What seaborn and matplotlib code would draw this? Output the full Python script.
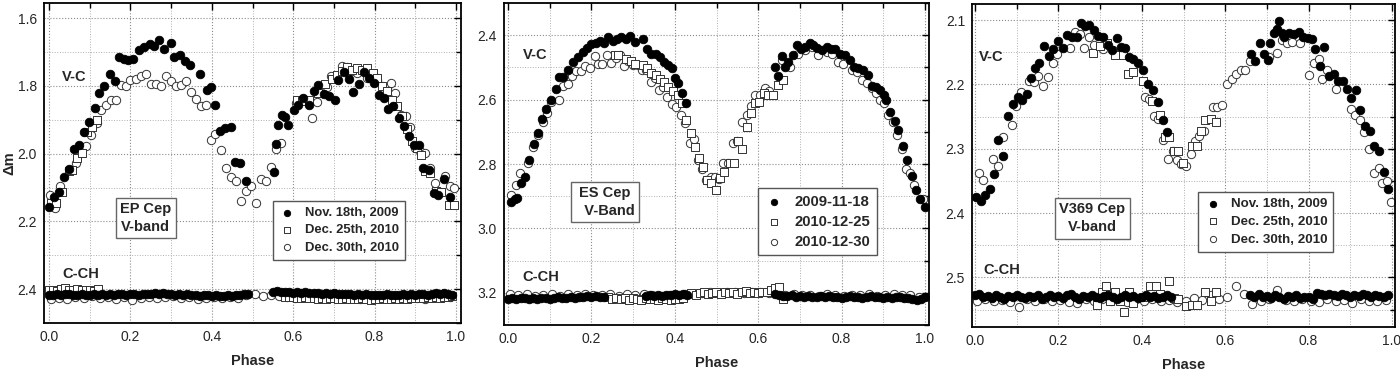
import numpy as np
import pandas as pd
import matplotlib
matplotlib.use('Agg')
import matplotlib.pyplot as plt
from matplotlib.ticker import MultipleLocator
import seaborn as sns

# ---------------- EP Cep ----------------
ep_nov_vc_ph = [0.001, 0.012, 0.025, 0.038, 0.05, 0.062, 0.074, 0.087, 0.099, 0.112, 0.124, 0.136,
                0.15, 0.162, 0.173, 0.184, 0.195, 0.207, 0.222, 0.234, 0.247, 0.258, 0.271, 0.283,
                0.299, 0.307, 0.322, 0.334, 0.347, 0.371, 0.389, 0.398, 0.409, 0.42, 0.433, 0.447,
                0.457, 0.47, 0.484,
                0.552, 0.557, 0.563, 0.572, 0.58, 0.588, 0.601, 0.613, 0.625, 0.638, 0.65, 0.662,
                0.675, 0.687, 0.702, 0.711, 0.724, 0.736, 0.748, 0.761, 0.775, 0.787, 0.798, 0.81,
                0.822, 0.833, 0.845, 0.859, 0.873, 0.884, 0.896, 0.908, 0.92, 0.933, 0.945, 0.957,
                0.97, 0.986]
ep_nov_vc = [2.158, 2.128, 2.114, 2.07, 2.045, 1.985, 1.975, 1.937, 1.905, 1.865, 1.821, 1.80,
             1.764, 1.784, 1.715, 1.719, 1.723, 1.72, 1.693, 1.686, 1.677, 1.681, 1.664, 1.691,
             1.672, 1.713, 1.71, 1.725, 1.739, 1.764, 1.811, 1.803, 1.857, 1.932, 1.924, 1.922,
             2.026, 2.027, 2.082,
             2.055, 1.97, 1.915, 1.885, 1.892, 1.915, 1.87, 1.855, 1.835, 1.855, 1.816, 1.798,
             1.825, 1.83, 1.84, 1.781, 1.76, 1.78, 1.817, 1.795, 1.76, 1.776, 1.792, 1.826,
             1.837, 1.869, 1.86, 1.895, 1.919, 1.947, 1.975, 1.975, 2.042, 2.047, 2.116, 2.121,
             2.075, 2.129]
ep_d25_vc_ph = [0.006, 0.017, 0.031, 0.048, 0.056, 0.068, 0.08, 0.094, 0.105, 0.117,
                0.609, 0.621, 0.638, 0.662, 0.679, 0.695, 0.707, 0.72, 0.732, 0.745, 0.757, 0.77,
                0.782, 0.795, 0.806, 0.818, 0.831, 0.843, 0.855, 0.867, 0.88, 0.892, 0.904, 0.913,
                0.925, 0.937, 0.95, 0.962, 0.982, 0.994]
ep_d25_vc = [2.145, 2.145, 2.114, 2.05, 2.047, 2.012, 1.997, 1.935, 1.92, 1.90,
             1.84, 1.845, 1.84, 1.82, 1.795, 1.78, 1.767, 1.756, 1.745, 1.752, 1.748, 1.754,
             1.748, 1.762, 1.777, 1.80, 1.816, 1.84, 1.86, 1.89, 1.928, 1.962, 1.983, 2.003,
             2.052, 2.057, 2.11, 2.113, 2.153, 2.153]
ep_d30_vc_ph = [0.002, 0.015, 0.027, 0.053, 0.066, 0.079, 0.091, 0.103, 0.117, 0.128, 0.14,
                0.152, 0.165, 0.176, 0.189, 0.2, 0.214, 0.225, 0.238, 0.25, 0.262, 0.275, 0.288,
                0.299, 0.311, 0.324, 0.336, 0.349, 0.36, 0.373, 0.385, 0.397, 0.409, 0.422, 0.434,
                0.447, 0.459, 0.471, 0.484, 0.496, 0.509, 0.52, 0.533, 0.545, 0.558, 0.57, 0.607,
                0.646, 0.658, 0.683, 0.694, 0.72, 0.732, 0.745, 0.757, 0.782, 0.795, 0.807, 0.818,
                0.831, 0.84, 0.851, 0.864, 0.876, 0.888, 0.9, 0.912, 0.925, 0.937, 0.949, 0.961,
                0.974, 0.986, 0.996]
ep_d30_vc = [2.122, 2.16, 2.096, 2.047, 2.027, 1.997, 1.978, 1.944, 1.91, 1.87, 1.855,
             1.842, 1.842, 1.796, 1.80, 1.782, 1.78, 1.772, 1.764, 1.794, 1.794, 1.80, 1.77,
             1.785, 1.801, 1.796, 1.786, 1.819, 1.838, 1.86, 1.855, 1.959, 1.942, 1.988, 2.042,
             2.069, 2.082, 2.139, 2.111, 2.096, 2.147, 2.075, 2.08, 2.04, 1.987, 1.967, 1.85,
             1.895, 1.846, 1.803, 1.772, 1.74, 1.743, 1.755, 1.762, 1.776, 1.764, 1.782, 1.80,
             1.806, 1.79, 1.821, 1.885, 1.888, 1.921, 1.983, 1.993, 1.998, 2.042, 2.086, 2.113,
             2.066, 2.096, 2.10]

ep_nov_cch_ph = [0.00, 0.01, 0.02, 0.03, 0.04, 0.05, 0.06, 0.07, 0.08, 0.09,
                 0.10, 0.11, 0.12, 0.13, 0.14, 0.15, 0.16, 0.17, 0.18, 0.19,
                 0.20, 0.21, 0.22, 0.23, 0.24, 0.25, 0.26, 0.27, 0.28, 0.29,
                 0.30, 0.31, 0.32, 0.33, 0.34, 0.35, 0.36, 0.37, 0.38, 0.39,
                 0.40, 0.41, 0.42, 0.43, 0.44, 0.45, 0.46, 0.47, 0.48, 0.49,
                 0.55, 0.56, 0.57, 0.58, 0.59, 0.60, 0.61, 0.62, 0.63, 0.64,
                 0.65, 0.66, 0.67, 0.68, 0.69, 0.70, 0.71, 0.72, 0.73, 0.74,
                 0.75, 0.76, 0.77, 0.78, 0.79, 0.80, 0.81, 0.82, 0.83, 0.84,
                 0.85, 0.86, 0.87, 0.88, 0.89, 0.90, 0.91, 0.92, 0.93, 0.94,
                 0.95, 0.96, 0.97, 0.98, 0.99]
ep_nov_cch = [2.416, 2.418, 2.414, 2.417, 2.415, 2.413, 2.417, 2.416, 2.414, 2.418,
              2.416, 2.415, 2.417, 2.413, 2.416, 2.414, 2.417, 2.415, 2.413, 2.416,
              2.415, 2.414, 2.416, 2.413, 2.415, 2.414, 2.412, 2.413, 2.411, 2.414,
              2.413, 2.416, 2.414, 2.417, 2.415, 2.418, 2.416, 2.419, 2.417, 2.418,
              2.420, 2.418, 2.419, 2.421, 2.418, 2.420, 2.417, 2.416, 2.414, 2.415,
              2.407, 2.406, 2.408, 2.409, 2.407, 2.410, 2.408, 2.411, 2.409, 2.412,
              2.410, 2.411, 2.413, 2.411, 2.414, 2.412, 2.413, 2.415, 2.413, 2.414,
              2.416, 2.414, 2.417, 2.415, 2.416, 2.418, 2.416, 2.417, 2.415, 2.418,
              2.416, 2.417, 2.415, 2.416, 2.414, 2.417, 2.415, 2.413, 2.416, 2.414,
              2.412, 2.414, 2.411, 2.415, 2.417]
ep_d25_cch_ph = [0.00, 0.01, 0.02, 0.03, 0.04, 0.05, 0.06, 0.07, 0.08, 0.09, 0.10, 0.11, 0.12,
                 0.58, 0.59, 0.60, 0.61, 0.62, 0.63, 0.64, 0.65, 0.66, 0.67, 0.68, 0.69,
                 0.70, 0.71, 0.72, 0.73, 0.74, 0.75, 0.76, 0.77, 0.78, 0.79, 0.80, 0.81,
                 0.82, 0.83, 0.84, 0.85, 0.86, 0.87, 0.88, 0.89, 0.90, 0.91, 0.92, 0.93,
                 0.94, 0.95, 0.96, 0.97, 0.98, 0.99]
ep_d25_cch = [2.404, 2.402, 2.405, 2.401, 2.398, 2.403, 2.404, 2.400, 2.403, 2.402, 2.404, 2.405, 2.399,
              2.422, 2.424, 2.423, 2.426, 2.425, 2.424, 2.427, 2.426, 2.428, 2.425, 2.429, 2.427,
              2.426, 2.428, 2.430, 2.427, 2.429, 2.428, 2.430, 2.427, 2.429, 2.431, 2.428, 2.430,
              2.427, 2.429, 2.428, 2.426, 2.429, 2.427, 2.428, 2.426, 2.427, 2.425, 2.427, 2.424,
              2.426, 2.423, 2.425, 2.422, 2.424, 2.421]
ep_d30_cch_ph = [0.005, 0.025, 0.045, 0.065, 0.085, 0.105, 0.125, 0.145, 0.165, 0.185,
                 0.205, 0.225, 0.245, 0.265, 0.285, 0.305, 0.325, 0.345, 0.365, 0.385,
                 0.405, 0.425, 0.445, 0.465, 0.485, 0.505, 0.525, 0.545, 0.565, 0.585,
                 0.605, 0.625, 0.645, 0.665, 0.685, 0.705, 0.725, 0.745, 0.765, 0.785,
                 0.805, 0.825, 0.845, 0.865, 0.885, 0.905, 0.925, 0.945, 0.965, 0.985]
ep_d30_cch = [2.428, 2.425, 2.430, 2.423, 2.426, 2.421, 2.427, 2.424, 2.429, 2.422,
              2.432, 2.425, 2.423, 2.427, 2.424, 2.421, 2.426, 2.423, 2.428, 2.425,
              2.422, 2.426, 2.424, 2.427, 2.417, 2.414, 2.419, 2.416, 2.420, 2.423,
              2.426, 2.424, 2.422, 2.425, 2.427, 2.423, 2.426, 2.424, 2.428, 2.425,
              2.423, 2.427, 2.424, 2.426, 2.422, 2.425, 2.428, 2.423, 2.420, 2.424]

# ---------------- ES Cep ----------------
es_nov_vc_ph = [0.008, 0.016, 0.022, 0.03, 0.04, 0.05, 0.062, 0.072, 0.082, 0.092, 0.102, 0.114,
                0.122, 0.132, 0.144, 0.156, 0.168, 0.18, 0.19, 0.2, 0.21, 0.22, 0.23, 0.24,
                0.252, 0.262, 0.272, 0.282, 0.292, 0.304, 0.324, 0.334, 0.344, 0.354, 0.364,
                0.374, 0.384, 0.394, 0.40, 0.408, 0.418, 0.428,
                0.64, 0.648, 0.656, 0.664, 0.672, 0.684, 0.692, 0.702, 0.712, 0.724, 0.732,
                0.742, 0.754, 0.764, 0.774, 0.784, 0.796, 0.808, 0.82, 0.83, 0.84, 0.852, 0.864,
                0.872, 0.882, 0.892, 0.902, 0.906, 0.916, 0.928, 0.936, 0.948, 0.958, 0.968,
                0.978, 0.988, 1.0]
es_nov_vc = [2.917, 2.91, 2.905, 2.86, 2.84, 2.788, 2.738, 2.705, 2.66, 2.63, 2.60, 2.568,
             2.531, 2.531, 2.507, 2.483, 2.467, 2.452, 2.441, 2.426, 2.424, 2.419, 2.424, 2.405,
             2.418, 2.413, 2.405, 2.413, 2.403, 2.421, 2.413, 2.444, 2.457, 2.459, 2.469,
             2.483, 2.493, 2.503, 2.534, 2.548, 2.579, 2.612,
             2.498, 2.527, 2.465, 2.498, 2.483, 2.462, 2.431, 2.444, 2.436, 2.424, 2.431,
             2.441, 2.447, 2.436, 2.444, 2.444, 2.457, 2.462, 2.478, 2.498, 2.503, 2.508, 2.524,
             2.558, 2.562, 2.571, 2.586, 2.60, 2.638, 2.666, 2.693, 2.743, 2.788, 2.837,
             2.881, 2.909, 2.932]
es_d25_vc_ph = [0.256, 0.264, 0.284, 0.294, 0.304, 0.324, 0.334, 0.344, 0.354, 0.364, 0.374,
                0.384, 0.396, 0.408, 0.418, 0.426, 0.438, 0.448, 0.458, 0.468, 0.478, 0.488,
                0.50, 0.508, 0.518, 0.532, 0.542, 0.552, 0.562, 0.572, 0.582, 0.592, 0.602,
                0.614, 0.624, 0.636, 0.648, 0.66]
es_d25_vc = [2.462, 2.462, 2.475, 2.481, 2.488, 2.493, 2.503, 2.517, 2.523, 2.537, 2.545,
             2.56, 2.573, 2.586, 2.61, 2.664, 2.705, 2.746, 2.78, 2.808, 2.85, 2.86,
             2.881, 2.845, 2.824, 2.796, 2.796, 2.728, 2.752, 2.684, 2.643, 2.612, 2.607,
             2.581, 2.586, 2.586, 2.555, 2.538]
es_d30_vc_ph = [0.008, 0.018, 0.028, 0.048, 0.06, 0.072, 0.084, 0.094, 0.104, 0.122, 0.132,
                0.144, 0.154, 0.164, 0.174, 0.184, 0.196, 0.208, 0.216, 0.226, 0.238, 0.248,
                0.26, 0.268, 0.278, 0.288, 0.30, 0.312, 0.322, 0.332, 0.342, 0.352, 0.362,
                0.372, 0.382, 0.394, 0.404, 0.414, 0.424, 0.436, 0.446, 0.456, 0.466, 0.476,
                0.486, 0.496, 0.506, 0.516, 0.528, 0.54, 0.55, 0.562, 0.572, 0.582, 0.592,
                0.604, 0.616, 0.626, 0.656, 0.676, 0.696, 0.712, 0.728, 0.744, 0.764, 0.776,
                0.792, 0.804, 0.824, 0.836, 0.848, 0.86, 0.872, 0.882, 0.892, 0.902, 0.912,
                0.924, 0.934, 0.944, 0.954, 0.964, 0.974, 0.996]
es_d30_vc = [2.896, 2.865, 2.829, 2.796, 2.746, 2.71, 2.669, 2.643, 2.607, 2.60, 2.558,
             2.552, 2.527, 2.51, 2.51, 2.496, 2.503, 2.465, 2.488, 2.489, 2.462, 2.486,
             2.47, 2.462, 2.496, 2.481, 2.493, 2.493, 2.507, 2.507, 2.545, 2.533, 2.571,
             2.562, 2.591, 2.614, 2.624, 2.648, 2.672, 2.734, 2.723, 2.788, 2.817, 2.85,
             2.84, 2.84, 2.848, 2.798, 2.796, 2.736, 2.73, 2.669, 2.648, 2.62, 2.586,
             2.586, 2.565, 2.572, 2.478, 2.498, 2.457, 2.447, 2.436, 2.462, 2.452, 2.457,
             2.483, 2.488, 2.508, 2.514, 2.54, 2.548, 2.565, 2.581, 2.60, 2.61, 2.648,
             2.669, 2.71, 2.752, 2.814, 2.829, 2.865, 2.909]

es_nov_cch_ph = [0.00, 0.01, 0.02, 0.03, 0.04, 0.05, 0.06, 0.07, 0.08, 0.09, 0.10, 0.11,
                 0.12, 0.13, 0.14, 0.15, 0.16, 0.17, 0.18, 0.19, 0.20, 0.21, 0.22, 0.23,
                 0.33, 0.34, 0.35, 0.36, 0.37, 0.38, 0.39, 0.40, 0.41, 0.42, 0.43,
                 0.64, 0.65, 0.66, 0.67, 0.68, 0.69, 0.70, 0.71, 0.72, 0.73, 0.74, 0.75,
                 0.76, 0.77, 0.78, 0.79, 0.80, 0.81, 0.82, 0.83, 0.84, 0.85, 0.86, 0.87,
                 0.88, 0.89, 0.90, 0.91, 0.92, 0.93, 0.94, 0.95, 0.96, 0.97, 0.98, 0.99, 1.00]
es_nov_cch = [3.218, 3.216, 3.219, 3.217, 3.215, 3.218, 3.216, 3.219, 3.217, 3.215, 3.218, 3.216,
              3.214, 3.217, 3.215, 3.213, 3.216, 3.212, 3.214, 3.211, 3.213, 3.210, 3.212, 3.214,
              3.210, 3.208, 3.211, 3.207, 3.209, 3.206, 3.208, 3.205, 3.207, 3.204, 3.206,
              3.203, 3.207, 3.209, 3.211, 3.208, 3.212, 3.210, 3.213, 3.211, 3.214, 3.212, 3.210,
              3.213, 3.211, 3.214, 3.212, 3.215, 3.213, 3.211, 3.214, 3.212, 3.215, 3.213, 3.211,
              3.214, 3.212, 3.215, 3.213, 3.216, 3.214, 3.212, 3.215, 3.217, 3.220, 3.222, 3.218, 3.213]
es_d25_cch_ph = [0.24, 0.25, 0.26, 0.27, 0.28, 0.29, 0.30, 0.31, 0.32, 0.33, 0.34, 0.35,
                 0.36, 0.37, 0.38, 0.39, 0.40, 0.41, 0.42, 0.43, 0.44, 0.45, 0.46, 0.47,
                 0.48, 0.49, 0.50, 0.51, 0.52, 0.53, 0.54, 0.55, 0.56, 0.57, 0.58, 0.59,
                 0.60, 0.61, 0.62, 0.63, 0.64, 0.65, 0.66]
es_d25_cch = [3.214, 3.218, 3.216, 3.220, 3.217, 3.221, 3.215, 3.219, 3.222, 3.216, 3.220, 3.218,
              3.221, 3.217, 3.219, 3.222, 3.218, 3.220, 3.217, 3.205, 3.200, 3.207, 3.202, 3.198,
              3.204, 3.200, 3.196, 3.203, 3.199, 3.201, 3.197, 3.203, 3.199, 3.195, 3.201, 3.197,
              3.200, 3.196, 3.199, 3.190, 3.184, 3.183, 3.218]
es_d30_cch_ph = ep_d30_cch_ph
es_d30_cch = [3.205, 3.208, 3.204, 3.210, 3.206, 3.203, 3.209, 3.205, 3.207, 3.204,
              3.208, 3.206, 3.203, 3.209, 3.205, 3.207, 3.204, 3.208, 3.210, 3.206,
              3.209, 3.205, 3.203, 3.201, 3.198, 3.202, 3.199, 3.197, 3.201, 3.198,
              3.196, 3.200, 3.203, 3.207, 3.205, 3.208, 3.206, 3.209, 3.205, 3.207,
              3.210, 3.206, 3.208, 3.205, 3.209, 3.207, 3.204, 3.208, 3.206, 3.212]

# ---------------- V369 Cep ----------------
v3_nov_vc_ph = [0.002, 0.014, 0.024, 0.036, 0.046, 0.056, 0.068, 0.08, 0.09, 0.102, 0.112, 0.124,
                0.134, 0.144, 0.154, 0.166, 0.178, 0.188, 0.198, 0.21, 0.22, 0.232, 0.244, 0.254,
                0.264, 0.274, 0.286, 0.296, 0.306, 0.318, 0.328, 0.34, 0.35, 0.36, 0.37, 0.38,
                0.392, 0.404, 0.416, 0.426, 0.438, 0.45, 0.46,
                0.662, 0.672, 0.684, 0.692, 0.702, 0.708, 0.716, 0.724, 0.728, 0.736, 0.74,
                0.752, 0.764, 0.776, 0.786, 0.798, 0.808, 0.816, 0.828, 0.838, 0.848, 0.86, 0.87,
                0.882, 0.892, 0.902, 0.914, 0.924, 0.936, 0.948, 0.958, 0.968, 0.98, 0.99]
v3_nov_vc = [2.375, 2.381, 2.372, 2.362, 2.339, 2.287, 2.312, 2.249, 2.23, 2.219, 2.224, 2.215,
             2.19, 2.174, 2.167, 2.14, 2.156, 2.145, 2.133, 2.143, 2.123, 2.127, 2.126, 2.105,
             2.109, 2.108, 2.115, 2.125, 2.126, 2.138, 2.147, 2.128, 2.142, 2.144, 2.158, 2.16,
             2.167, 2.178, 2.199, 2.208, 2.228, 2.256, 2.274,
             2.152, 2.164, 2.136, 2.153, 2.162, 2.135, 2.12, 2.114, 2.101, 2.12, 2.126,
             2.12, 2.121, 2.118, 2.127, 2.128, 2.13, 2.145, 2.171, 2.142, 2.187, 2.184, 2.195,
             2.194, 2.207, 2.221, 2.208, 2.24, 2.264, 2.273, 2.295, 2.304, 2.336, 2.363]
v3_d25_vc_ph = [0.282, 0.30, 0.316, 0.336, 0.356, 0.368, 0.38, 0.402, 0.424, 0.444, 0.456,
                0.466, 0.478, 0.488, 0.498, 0.52, 0.532, 0.542, 0.552, 0.566, 0.578]
v3_d25_vc = [2.151, 2.141, 2.135, 2.154, 2.154, 2.184, 2.181, 2.195, 2.225, 2.247, 2.282,
             2.282, 2.304, 2.304, 2.322, 2.295, 2.296, 2.272, 2.256, 2.254, 2.259]
v3_d30_vc_ph = [0.01, 0.02, 0.042, 0.054, 0.066, 0.088, 0.098, 0.11, 0.13, 0.142, 0.152, 0.164,
                0.174, 0.186, 0.196, 0.228, 0.24, 0.252, 0.262, 0.274, 0.286, 0.306, 0.33,
                0.408, 0.418, 0.43, 0.44, 0.45, 0.462, 0.474, 0.484, 0.494, 0.506, 0.518,
                0.528, 0.538, 0.55, 0.57, 0.58, 0.592, 0.604, 0.616, 0.626, 0.638, 0.648,
                0.66, 0.704, 0.724, 0.736, 0.748, 0.76, 0.78, 0.80, 0.812, 0.824, 0.832, 0.844,
                0.866, 0.902, 0.912, 0.924, 0.932, 0.944, 0.956, 0.968, 0.976, 0.988, 0.998]
v3_d30_vc = [2.337, 2.349, 2.316, 2.326, 2.281, 2.263, 2.233, 2.212, 2.194, 2.196, 2.187, 2.203,
             2.189, 2.167, 2.152, 2.144, 2.118, 2.122, 2.143, 2.127, 2.139, 2.145, 2.147,
             2.219, 2.222, 2.249, 2.253, 2.286, 2.316, 2.304, 2.318, 2.324, 2.326, 2.308,
             2.288, 2.28, 2.273, 2.235, 2.235, 2.232, 2.20, 2.192, 2.184, 2.178, 2.178,
             2.163, 2.157, 2.151, 2.131, 2.136, 2.134, 2.135, 2.185, 2.167, 2.161, 2.192, 2.178,
             2.207, 2.238, 2.247, 2.255, 2.274, 2.301, 2.337, 2.33, 2.353, 2.35, 2.383]

v3_nov_cch_ph = [0.00, 0.01, 0.02, 0.03, 0.04, 0.05, 0.06, 0.07, 0.08, 0.09,
                 0.10, 0.11, 0.12, 0.13, 0.14, 0.15, 0.16, 0.17, 0.18, 0.19,
                 0.20, 0.21, 0.22, 0.23, 0.24, 0.25, 0.26, 0.27, 0.28, 0.29,
                 0.30, 0.31, 0.32, 0.33, 0.34, 0.35, 0.36, 0.37, 0.38, 0.39,
                 0.40, 0.41, 0.42, 0.43, 0.44, 0.45, 0.46, 0.47,
                 0.66, 0.67, 0.68, 0.69, 0.70, 0.71, 0.72, 0.73, 0.74, 0.75, 0.76, 0.77,
                 0.78, 0.79, 0.80, 0.81, 0.82, 0.83, 0.84, 0.85, 0.86, 0.87, 0.88, 0.89,
                 0.90, 0.91, 0.92, 0.93, 0.94, 0.95, 0.96, 0.97, 0.98, 0.99]
v3_nov_cch = [2.528, 2.526, 2.531, 2.529, 2.532, 2.528, 2.530, 2.533, 2.529, 2.531,
              2.527, 2.530, 2.532, 2.529, 2.531, 2.528, 2.533, 2.530, 2.527, 2.531,
              2.529, 2.532, 2.528, 2.526, 2.530, 2.533, 2.529, 2.531, 2.528, 2.530,
              2.532, 2.529, 2.527, 2.531, 2.533, 2.530, 2.528, 2.531, 2.529, 2.532,
              2.530, 2.527, 2.531, 2.529, 2.532, 2.530, 2.528, 2.531,
              2.527, 2.530, 2.526, 2.531, 2.529, 2.532, 2.528, 2.530, 2.533, 2.529, 2.531, 2.528,
              2.532, 2.530, 2.531, 2.533, 2.524, 2.526, 2.528, 2.525, 2.527, 2.529, 2.526, 2.528,
              2.530, 2.527, 2.529, 2.526, 2.528, 2.530, 2.527, 2.529, 2.531, 2.528]
v3_d25_cch_ph = [0.292, 0.304, 0.314, 0.324, 0.336, 0.348, 0.358, 0.37, 0.38, 0.404, 0.42,
                 0.434, 0.444, 0.466, 0.478, 0.488, 0.506, 0.52, 0.532, 0.552, 0.566, 0.578]
v3_d25_cch = [2.543, 2.523, 2.514, 2.536, 2.523, 2.536, 2.554, 2.522, 2.54, 2.531, 2.514,
              2.514, 2.526, 2.505, 2.532, 2.534, 2.544, 2.543, 2.543, 2.522, 2.536, 2.523]
v3_d30_cch_ph = ep_d30_cch_ph
v3_d30_cch = [2.536, 2.534, 2.537, 2.535, 2.538, 2.546, 2.533, 2.536, 2.534, 2.537,
              2.535, 2.538, 2.539, 2.534, 2.536, 2.533, 2.537, 2.535, 2.538, 2.534,
              2.536, 2.533, 2.537, 2.535, 2.538, 2.536, 2.532, 2.535, 2.527, 2.533,
              2.531, 2.514, 2.526, 2.541, 2.536, 2.534, 2.519, 2.535, 2.537, 2.533,
              2.536, 2.538, 2.534, 2.537, 2.535, 2.539, 2.534, 2.537, 2.536, 2.535]

labels_long = ['Nov. 18th, 2009', 'Dec. 25th, 2010', 'Dec. 30th, 2010']
labels_iso = ['2009-11-18', '2010-12-25', '2010-12-30']
star_names = ['EP Cep\nV-band', 'ES Cep\n  V-Band', 'V369 Cep\nV-band']

sns.set_style('white')
plt.rcParams['font.family'] = ['Liberation Sans', 'DejaVu Sans']


def series_frame(vc_ph, vc, cch_ph, cch):
    return pd.DataFrame({'phase': list(vc_ph) + list(cch_ph), 'dm': list(vc) + list(cch)})


def draw_panel(ax, sets, labels, ylim, ymajor, yminor, xlim, name, name_xy,
               vc_xy, cch_xy, leg_anchor, leg_size):
    styles = [dict(marker='o', s=38, color='black', edgecolor='black', linewidth=0.6, zorder=4),
              dict(marker='s', s=26, color='white', edgecolor='#333333', linewidth=0.7, zorder=3),
              dict(marker='o', s=36, color='white', edgecolor='#333333', linewidth=0.7, zorder=2)]
    for df, lab, st in zip(sets, labels, styles):
        sns.scatterplot(data=df, x='phase', y='dm', ax=ax, label=lab, **st)
    ax.set_xlim(*xlim)
    ax.set_ylim(ylim[1], ylim[0])
    ax.xaxis.set_major_locator(MultipleLocator(0.2))
    ax.xaxis.set_minor_locator(MultipleLocator(0.1))
    ax.yaxis.set_major_locator(MultipleLocator(ymajor))
    ax.yaxis.set_minor_locator(MultipleLocator(yminor))
    ax.xaxis.set_major_formatter(matplotlib.ticker.FormatStrFormatter('%.1f'))
    ax.yaxis.set_major_formatter(matplotlib.ticker.FormatStrFormatter('%.1f'))
    ax.grid(True, which='major', linestyle=':', color='#8c8c8c', linewidth=0.8)
    ax.grid(True, which='minor', linestyle=':', color='#b0b0b0', linewidth=0.7)
    ax.tick_params(which='both', direction='in', top=True, right=True, labelsize=10,
                   width=1.0, color='black', pad=5)
    ax.tick_params(which='major', length=5)
    ax.tick_params(which='minor', length=3.5)
    for sp in ax.spines.values():
        sp.set_color('black')
        sp.set_linewidth(1.3)
    ax.set_xlabel('Phase', fontsize=10.5, fontweight='bold', labelpad=7)
    ax.set_ylabel('')
    ax.text(vc_xy[0], vc_xy[1], 'V-C', fontsize=10.5, fontweight='bold', va='center', ha='left')
    ax.text(cch_xy[0], cch_xy[1], 'C-CH', fontsize=10.5, fontweight='bold', va='center', ha='left')
    ax.text(name_xy[0], name_xy[1], name, fontsize=10.5, fontweight='bold', va='center',
            ha='center', linespacing=1.35, zorder=6,
            bbox=dict(boxstyle='square,pad=0.3', facecolor='white', edgecolor='#666666',
                      linewidth=1.0))
    leg = ax.legend(loc='upper left', bbox_to_anchor=leg_anchor, borderaxespad=0,
                    frameon=True, fancybox=False, framealpha=1, edgecolor='#555555',
                    prop={'weight': 'bold', 'size': leg_size}, handletextpad=0.7,
                    handlelength=1.3, markerscale=0.75, labelspacing=0.4,
                    borderpad=0.45)
    leg.get_frame().set_linewidth(1.0)
    leg.set_zorder(7)


fig = plt.figure(figsize=(14, 3.69), dpi=100)
ax1 = fig.add_axes([44 / 1400, 1 - 323 / 369, 417 / 1400, 320 / 369])
ax2 = fig.add_axes([504 / 1400, 1 - 325 / 369, 425 / 1400, 322 / 369])
ax3 = fig.add_axes([972 / 1400, 1 - 327 / 369, 423 / 1400, 323 / 369])

ep_sets = [series_frame(ep_nov_vc_ph, ep_nov_vc, ep_nov_cch_ph, ep_nov_cch),
           series_frame(ep_d25_vc_ph, ep_d25_vc, ep_d25_cch_ph, ep_d25_cch),
           series_frame(ep_d30_vc_ph, ep_d30_vc, ep_d30_cch_ph, ep_d30_cch)]
es_sets = [series_frame(es_nov_vc_ph, es_nov_vc, es_nov_cch_ph, es_nov_cch),
           series_frame(es_d25_vc_ph, es_d25_vc, es_d25_cch_ph, es_d25_cch),
           series_frame(es_d30_vc_ph, es_d30_vc, es_d30_cch_ph, es_d30_cch)]
v3_sets = [series_frame(v3_nov_vc_ph, v3_nov_vc, v3_nov_cch_ph, v3_nov_cch),
           series_frame(v3_d25_vc_ph, v3_d25_vc, v3_d25_cch_ph, v3_d25_cch),
           series_frame(v3_d30_vc_ph, v3_d30_vc, v3_d30_cch_ph, v3_d30_cch)]

draw_panel(ax1, ep_sets, labels_long, (1.555, 2.5), 0.2, 0.1, (-0.0123, 1.0123),
           star_names[0], (0.238, 2.19), (0.032, 1.773), (0.034, 2.355),
           (0.549, 0.381), 9.4)
draw_panel(ax2, es_sets, labels_iso, (2.30, 3.30), 0.2, 0.1, (-0.0096, 1.0096),
           star_names[1], (0.233, 2.918), (0.036, 2.462), (0.034, 3.15),
           (0.598, 0.425), 10.7)
draw_panel(ax3, v3_sets, labels_long, (2.075, 2.577), 0.1, 0.05, (-0.0072, 1.0072),
           star_names[2], (0.281, 2.408), (0.010, 2.157), (0.019, 2.488),
           (0.534, 0.418), 9.6)
ax1.set_ylabel('Δm', fontsize=10.5, fontweight='bold')
ax1.yaxis.set_label_coords(-0.066, 0.5)

fig.savefig('out.png', dpi=100)
